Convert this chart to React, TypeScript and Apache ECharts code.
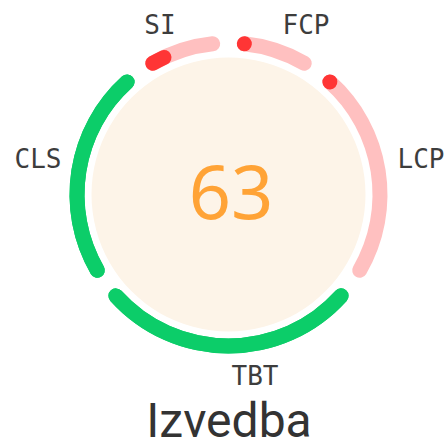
import React, { useEffect, useRef } from "react";
import * as echarts from "echarts";

// Metrics, clockwise from the top
const metrics = ["FCP", "LCP", "TBT", "CLS", "SI"];
const weights = [10, 25, 30, 25, 10];
const metricScores = [0, 0, 1, 1, 0.2];
const passed = [false, false, true, true, false];
const score = 63;
const categoryTitle = "Izvedba";

const GREEN = "#0ccd69";
const RED = "#ff3535";
const PINK = "#ffc0c0";
const FILL = "#fdf4e8";

const CX = 228.5;
const CY = 194.5;
const GAP_DEG = 6;
const BAND = 15;
const R_MID = 151.5;

// label centres (layout)
const labelPos: Record<string, [number, number]> = {
  FCP: [306, 25],
  LCP: [421, 159],
  TBT: [255, 376],
  CLS: [38, 159],
  SI: [160, 25],
};

export default function App() {
  const ref = useRef<HTMLDivElement>(null);
  useEffect(() => {
    document.body.style.margin = "0";
    if (!ref.current) return;
    const chart = echarts.init(ref.current, undefined, { renderer: "svg" });
    const total = weights.reduce((a, b) => a + b, 0);
    let acc = 0;
    const series: any[] = metrics.map((m, i) => {
      const t0 = (acc / total) * 360 + GAP_DEG;
      acc += weights[i];
      const t1 = (acc / total) * 360 - GAP_DEG;
      return {
        type: "gauge",
        center: [CX, CY],
        radius: R_MID + BAND / 2,
        startAngle: 90 - t0,
        endAngle: 90 - t1,
        min: 0,
        max: 1,
        axisLine: {
          roundCap: true,
          lineStyle: { width: BAND, color: [[1, passed[i] ? GREEN : PINK]] },
        },
        progress: {
          show: true,
          roundCap: true,
          width: BAND,
          itemStyle: { color: passed[i] ? GREEN : RED },
        },
        pointer: { show: false },
        anchor: { show: false },
        axisTick: { show: false },
        splitLine: { show: false },
        axisLabel: { show: false },
        title: { show: false },
        detail: { show: false },
        data: [{ value: metricScores[i], name: m }],
      };
    });
    chart.setOption({
      animation: false,
      series,
      graphic: [
        {
          type: "circle",
          z: 0,
          shape: { cx: CX, cy: CY, r: 137 },
          style: { fill: FILL },
        },
        {
          type: "text",
          z: 10,
          x: 231,
          y: 190,
          style: {
            text: String(score),
            fill: "#ffa336",
            font: '74px "Noto Sans"',
            align: "center",
            verticalAlign: "middle",
          },
        },
        {
          type: "text",
          z: 10,
          x: 229,
          y: 420,
          style: {
            text: categoryTitle,
            fill: "#333333",
            font: '48px Roboto',
            align: "center",
            verticalAlign: "middle",
          },
        },
        ...metrics.map((m) => ({
          type: "text",
          z: 10,
          x: labelPos[m][0],
          y: labelPos[m][1],
          style: {
            text: m,
            fill: "#3d3d3d",
            font: '26px "DejaVu Sans Mono"',
            align: "center",
            verticalAlign: "middle",
          },
        })),
      ],
    });
    return () => chart.dispose();
  }, []);
  return <div ref={ref} style={{ width: 448, height: 440 }} />;
}
